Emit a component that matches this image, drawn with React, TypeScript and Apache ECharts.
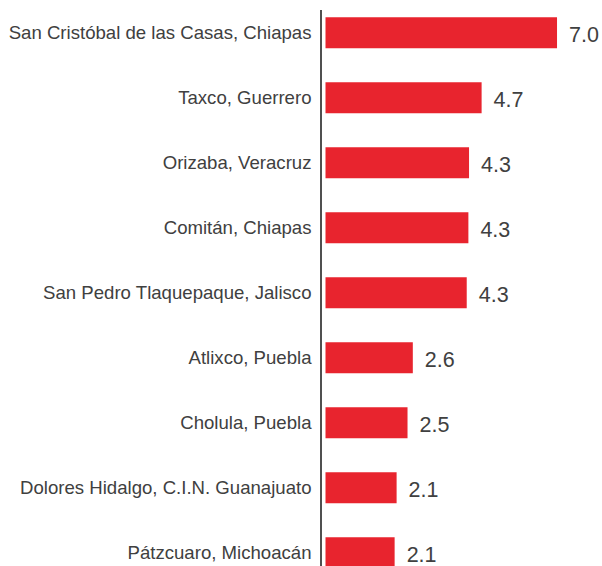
import React, { useEffect, useRef } from "react";
import * as echarts from "echarts";

const categories = [
  "San Cristóbal de las Casas, Chiapas",
  "Taxco, Guerrero",
  "Orizaba, Veracruz",
  "Comitán, Chiapas",
  "San Pedro Tlaquepaque, Jalisco",
  "Atlixco, Puebla",
  "Cholula, Puebla",
  "Dolores Hidalgo, C.I.N. Guanajuato",
  "Pátzcuaro, Michoacán",
];

const values = [7.0, 4.72, 4.34, 4.32, 4.27, 2.64, 2.48, 2.15, 2.09];

const FONT = "'Liberation Sans', Arial, sans-serif";

export default function App() {
  const ref = useRef<HTMLDivElement>(null);

  useEffect(() => {
    if (!ref.current) return;
    const chart = echarts.init(ref.current, undefined, { renderer: "svg" });
    chart.setOption({
      animation: false,
      backgroundColor: "#ffffff",
      grid: {
        left: 325.5,
        width: 264.6,
        top: 0.2,
        height: 585,
        containLabel: false,
        outerBoundsMode: "none",
      },
      xAxis: {
        type: "value",
        min: 0,
        max: 8,
        show: false,
      },
      yAxis: {
        type: "category",
        data: categories,
        inverse: true,
        axisLine: { show: false },
        axisTick: { show: false },
        splitLine: { show: false },
        axisLabel: {
          margin: 14,
          fontSize: 18.6,
          color: "#404040",
          fontFamily: FONT,
        },
      },
      graphic: [
        {
          type: "line",
          shape: { x1: 321, y1: 10, x2: 321, y2: 566 },
          style: { stroke: "#505050", lineWidth: 2 },
          silent: true,
        },
      ],
      series: [
        {
          type: "bar",
          data: values,
          barWidth: 31,
          itemStyle: { color: "#E8242E" },
          label: {
            show: true,
            position: "right",
            distance: 12,
            fontSize: 21.5,
            color: "#404040",
            fontFamily: FONT,
            offset: [0, 2],
            formatter: (p: any) => Number(p.value).toFixed(1),
          },
        },
      ],
    });
    return () => chart.dispose();
  }, []);

  return (
    <div
      style={{
        position: "fixed",
        left: 0,
        top: 0,
        width: 602,
        height: 566,
        overflow: "hidden",
        background: "#ffffff",
      }}
    >
      <div ref={ref} style={{ width: 602, height: 600 }} />
    </div>
  );
}
